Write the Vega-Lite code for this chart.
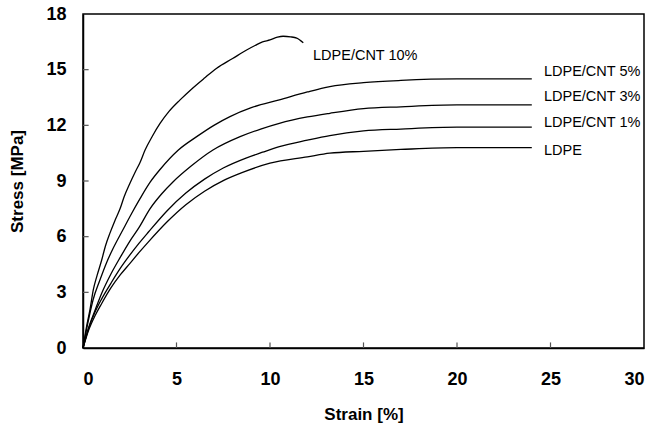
{
  "$schema": "https://vega.github.io/schema/vega-lite/v6.json",
  "width": 561,
  "height": 334,
  "autosize": {"type": "none"},
  "padding": {"left": 83, "top": 14, "right": 13, "bottom": 84},
  "background": "white",
  "config": {
    "font": "Liberation Sans",
    "view": {"stroke": "black", "strokeWidth": 1.5},
    "axis": {
      "grid": false,
      "domainColor": "black",
      "domainWidth": 1.5,
      "ticks": false,
      "tickSize": 0,
      "labelFont": "Liberation Sans",
      "labelFontSize": 18,
      "labelFontWeight": "bold",
      "labelColor": "black",
      "titleFont": "Liberation Sans",
      "titleFontSize": 17,
      "titleFontWeight": "bold",
      "titleColor": "black"
    }
  },
  "datasets": {
    "curves": [
      {"s": "LDPE/CNT 10%", "x": 0, "y": 0},
      {"s": "LDPE/CNT 10%", "x": 0.2, "y": 1.2},
      {"s": "LDPE/CNT 10%", "x": 0.37, "y": 2.05},
      {"s": "LDPE/CNT 10%", "x": 0.55, "y": 3.13},
      {"s": "LDPE/CNT 10%", "x": 0.75, "y": 3.9},
      {"s": "LDPE/CNT 10%", "x": 1.0, "y": 4.74},
      {"s": "LDPE/CNT 10%", "x": 1.2, "y": 5.5},
      {"s": "LDPE/CNT 10%", "x": 1.44, "y": 6.19},
      {"s": "LDPE/CNT 10%", "x": 1.7, "y": 6.85},
      {"s": "LDPE/CNT 10%", "x": 1.98, "y": 7.5},
      {"s": "LDPE/CNT 10%", "x": 2.2, "y": 8.15},
      {"s": "LDPE/CNT 10%", "x": 2.51, "y": 8.88},
      {"s": "LDPE/CNT 10%", "x": 2.8, "y": 9.5},
      {"s": "LDPE/CNT 10%", "x": 3.05, "y": 10.0},
      {"s": "LDPE/CNT 10%", "x": 3.32, "y": 10.67},
      {"s": "LDPE/CNT 10%", "x": 3.7, "y": 11.4},
      {"s": "LDPE/CNT 10%", "x": 4.12, "y": 12.1},
      {"s": "LDPE/CNT 10%", "x": 4.6, "y": 12.75},
      {"s": "LDPE/CNT 10%", "x": 5.19, "y": 13.37},
      {"s": "LDPE/CNT 10%", "x": 5.8, "y": 13.95},
      {"s": "LDPE/CNT 10%", "x": 6.5, "y": 14.55},
      {"s": "LDPE/CNT 10%", "x": 7.15, "y": 15.08},
      {"s": "LDPE/CNT 10%", "x": 8.0, "y": 15.6},
      {"s": "LDPE/CNT 10%", "x": 8.75, "y": 16.06},
      {"s": "LDPE/CNT 10%", "x": 9.2, "y": 16.3},
      {"s": "LDPE/CNT 10%", "x": 9.6, "y": 16.5},
      {"s": "LDPE/CNT 10%", "x": 10.0, "y": 16.6},
      {"s": "LDPE/CNT 10%", "x": 10.4, "y": 16.75},
      {"s": "LDPE/CNT 10%", "x": 10.7, "y": 16.8},
      {"s": "LDPE/CNT 10%", "x": 11.1, "y": 16.77},
      {"s": "LDPE/CNT 10%", "x": 11.43, "y": 16.7},
      {"s": "LDPE/CNT 10%", "x": 11.78, "y": 16.45},

      {"s": "LDPE/CNT 5%", "x": 0, "y": 0},
      {"s": "LDPE/CNT 5%", "x": 0.25, "y": 1.3},
      {"s": "LDPE/CNT 5%", "x": 0.54, "y": 2.6},
      {"s": "LDPE/CNT 5%", "x": 0.9, "y": 3.65},
      {"s": "LDPE/CNT 5%", "x": 1.26, "y": 4.6},
      {"s": "LDPE/CNT 5%", "x": 1.6, "y": 5.35},
      {"s": "LDPE/CNT 5%", "x": 2.15, "y": 6.4},
      {"s": "LDPE/CNT 5%", "x": 2.6, "y": 7.25},
      {"s": "LDPE/CNT 5%", "x": 3.05, "y": 8.05},
      {"s": "LDPE/CNT 5%", "x": 3.6, "y": 8.95},
      {"s": "LDPE/CNT 5%", "x": 4.12, "y": 9.62},
      {"s": "LDPE/CNT 5%", "x": 5.1, "y": 10.67},
      {"s": "LDPE/CNT 5%", "x": 6.08, "y": 11.39},
      {"s": "LDPE/CNT 5%", "x": 7.0, "y": 12.0},
      {"s": "LDPE/CNT 5%", "x": 7.86, "y": 12.47},
      {"s": "LDPE/CNT 5%", "x": 9.0, "y": 12.95},
      {"s": "LDPE/CNT 5%", "x": 10.5, "y": 13.37},
      {"s": "LDPE/CNT 5%", "x": 12.0, "y": 13.8},
      {"s": "LDPE/CNT 5%", "x": 13.2, "y": 14.09},
      {"s": "LDPE/CNT 5%", "x": 15.0, "y": 14.3},
      {"s": "LDPE/CNT 5%", "x": 17.0, "y": 14.42},
      {"s": "LDPE/CNT 5%", "x": 20.0, "y": 14.5},
      {"s": "LDPE/CNT 5%", "x": 24.0, "y": 14.5},

      {"s": "LDPE/CNT 3%", "x": 0, "y": 0},
      {"s": "LDPE/CNT 3%", "x": 0.3, "y": 1.1},
      {"s": "LDPE/CNT 3%", "x": 0.65, "y": 2.05},
      {"s": "LDPE/CNT 3%", "x": 1.0, "y": 2.95},
      {"s": "LDPE/CNT 3%", "x": 1.5, "y": 4.0},
      {"s": "LDPE/CNT 3%", "x": 2.0, "y": 4.9},
      {"s": "LDPE/CNT 3%", "x": 2.5, "y": 5.75},
      {"s": "LDPE/CNT 3%", "x": 3.0, "y": 6.5},
      {"s": "LDPE/CNT 3%", "x": 3.58, "y": 7.5},
      {"s": "LDPE/CNT 3%", "x": 4.2, "y": 8.3},
      {"s": "LDPE/CNT 3%", "x": 4.81, "y": 8.95},
      {"s": "LDPE/CNT 3%", "x": 5.8, "y": 9.82},
      {"s": "LDPE/CNT 3%", "x": 6.95, "y": 10.67},
      {"s": "LDPE/CNT 3%", "x": 8.4, "y": 11.39},
      {"s": "LDPE/CNT 3%", "x": 9.5, "y": 11.8},
      {"s": "LDPE/CNT 3%", "x": 10.5, "y": 12.11},
      {"s": "LDPE/CNT 3%", "x": 12.0, "y": 12.45},
      {"s": "LDPE/CNT 3%", "x": 13.2, "y": 12.65},
      {"s": "LDPE/CNT 3%", "x": 15.0, "y": 12.9},
      {"s": "LDPE/CNT 3%", "x": 17.0, "y": 13.0},
      {"s": "LDPE/CNT 3%", "x": 20.0, "y": 13.1},
      {"s": "LDPE/CNT 3%", "x": 24.0, "y": 13.1},

      {"s": "LDPE/CNT 1%", "x": 0, "y": 0},
      {"s": "LDPE/CNT 1%", "x": 0.3, "y": 1.05},
      {"s": "LDPE/CNT 1%", "x": 0.65, "y": 1.95},
      {"s": "LDPE/CNT 1%", "x": 1.0, "y": 2.65},
      {"s": "LDPE/CNT 1%", "x": 1.5, "y": 3.5},
      {"s": "LDPE/CNT 1%", "x": 2.0, "y": 4.3},
      {"s": "LDPE/CNT 1%", "x": 2.5, "y": 5.0},
      {"s": "LDPE/CNT 1%", "x": 3.0, "y": 5.65},
      {"s": "LDPE/CNT 1%", "x": 3.5, "y": 6.25},
      {"s": "LDPE/CNT 1%", "x": 4.5, "y": 7.4},
      {"s": "LDPE/CNT 1%", "x": 5.5, "y": 8.35},
      {"s": "LDPE/CNT 1%", "x": 6.5, "y": 9.1},
      {"s": "LDPE/CNT 1%", "x": 7.5, "y": 9.7},
      {"s": "LDPE/CNT 1%", "x": 8.75, "y": 10.25},
      {"s": "LDPE/CNT 1%", "x": 9.6, "y": 10.55},
      {"s": "LDPE/CNT 1%", "x": 10.5, "y": 10.85},
      {"s": "LDPE/CNT 1%", "x": 12.0, "y": 11.2},
      {"s": "LDPE/CNT 1%", "x": 13.2, "y": 11.45},
      {"s": "LDPE/CNT 1%", "x": 15.0, "y": 11.7},
      {"s": "LDPE/CNT 1%", "x": 17.0, "y": 11.8},
      {"s": "LDPE/CNT 1%", "x": 20.0, "y": 11.9},
      {"s": "LDPE/CNT 1%", "x": 24.0, "y": 11.9},

      {"s": "LDPE", "x": 0, "y": 0},
      {"s": "LDPE", "x": 0.3, "y": 0.95},
      {"s": "LDPE", "x": 0.65, "y": 1.75},
      {"s": "LDPE", "x": 1.0, "y": 2.4},
      {"s": "LDPE", "x": 1.5, "y": 3.25},
      {"s": "LDPE", "x": 2.0, "y": 3.95},
      {"s": "LDPE", "x": 2.5, "y": 4.55},
      {"s": "LDPE", "x": 3.0, "y": 5.15},
      {"s": "LDPE", "x": 3.5, "y": 5.72},
      {"s": "LDPE", "x": 4.5, "y": 6.8},
      {"s": "LDPE", "x": 5.5, "y": 7.72},
      {"s": "LDPE", "x": 6.5, "y": 8.45},
      {"s": "LDPE", "x": 7.5, "y": 9.02},
      {"s": "LDPE", "x": 8.5, "y": 9.45},
      {"s": "LDPE", "x": 10.0, "y": 9.96},
      {"s": "LDPE", "x": 12.0, "y": 10.3},
      {"s": "LDPE", "x": 13.2, "y": 10.5},
      {"s": "LDPE", "x": 15.0, "y": 10.6},
      {"s": "LDPE", "x": 17.0, "y": 10.7},
      {"s": "LDPE", "x": 20.0, "y": 10.8},
      {"s": "LDPE", "x": 24.0, "y": 10.8}
    ],
    "labels": [
      {"label": "LDPE/CNT 10%", "x": 12.3, "y": 15.74},
      {"label": "LDPE/CNT 5%", "x": 24.65, "y": 14.88},
      {"label": "LDPE/CNT 3%", "x": 24.65, "y": 13.53},
      {"label": "LDPE/CNT 1%", "x": 24.65, "y": 12.13},
      {"label": "LDPE", "x": 24.65, "y": 10.62}
    ],
    "xticks": [{"v": 5}, {"v": 10}, {"v": 15}, {"v": 20}, {"v": 25}],
    "yticks": [{"v": 3}, {"v": 6}, {"v": 9}, {"v": 12}, {"v": 15}]
  },
  "layer": [
    {
      "data": {"name": "curves"},
      "mark": {"type": "line", "color": "black", "strokeWidth": 1.3, "interpolate": "monotone"},
      "encoding": {
        "x": {
          "field": "x", "type": "quantitative",
          "scale": {"domain": [0, 30], "nice": false},
          "axis": {"values": [0, 5, 10, 15, 20, 25, 30], "title": "Strain [%]", "labelPadding": 22, "titlePadding": 18}
        },
        "y": {
          "field": "y", "type": "quantitative",
          "scale": {"domain": [0, 18], "nice": false},
          "axis": {"values": [0, 3, 6, 9, 12, 15, 18], "title": "Stress [MPa]", "labelPadding": 17, "titlePadding": 19}
        },
        "detail": {"field": "s"}
      }
    },
    {
      "data": {"name": "xticks"},
      "mark": {"type": "rule", "color": "#555", "strokeWidth": 1.2},
      "encoding": {
        "x": {"field": "v", "type": "quantitative"},
        "y": {"datum": 0},
        "y2": {"datum": 0.3}
      }
    },
    {
      "data": {"name": "yticks"},
      "mark": {"type": "rule", "color": "#555", "strokeWidth": 1.2},
      "encoding": {
        "y": {"field": "v", "type": "quantitative"},
        "x": {"datum": 0},
        "x2": {"datum": 0.3}
      }
    },
    {
      "data": {"name": "labels"},
      "mark": {"type": "text", "align": "left", "baseline": "middle", "fontSize": 14.5, "font": "Liberation Sans", "color": "black"},
      "encoding": {
        "x": {"field": "x", "type": "quantitative"},
        "y": {"field": "y", "type": "quantitative"},
        "text": {"field": "label"}
      }
    }
  ]
}
